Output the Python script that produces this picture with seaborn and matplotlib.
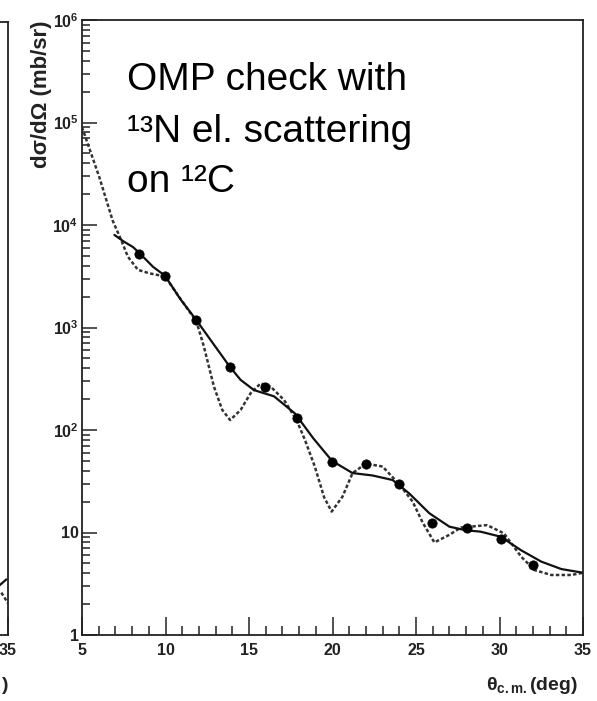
import matplotlib
matplotlib.use("Agg")
import matplotlib.pyplot as plt
import seaborn as sns
import numpy as np
import pandas as pd
from matplotlib.ticker import FixedLocator, FixedFormatter, MultipleLocator, NullFormatter

# ---------------- data ----------------
data_theta = [8.4, 9.97, 11.85, 13.87, 15.95, 17.87, 19.95, 22.0, 24.0, 25.93, 28.05, 30.07, 32.03]
data_xs = [5200, 3150, 1180, 415, 265, 130, 49, 46.5, 29.6, 12.3, 11.0, 8.7, 4.8]

solid_theta = [6.94, 7.5, 8.05, 8.4, 9.26, 9.97, 10.88, 11.85, 12.9, 13.87, 14.5, 15.3,
               16.5, 17.75, 18.85, 19.97, 21.2, 22.4, 23.6, 24.6, 25.8, 27.0, 28.0,
               28.85, 30.07, 31.3, 32.5, 33.7, 35.0]
solid_xs = [8000, 6900, 6100, 5400, 3900, 3200, 1900, 1180, 680, 410, 308, 245,
            213, 145, 83, 50, 38, 36, 32.5, 24, 15.4, 11.4, 10.5,
            10.2, 9.1, 6.7, 5.2, 4.4, 4.05]

dashed_theta = [5.0, 6.03, 6.84, 7.35, 7.75, 8.35, 9.06, 9.97, 11.06, 11.85, 12.3, 12.9,
                13.4, 13.87, 14.5, 15.1, 15.7, 16.3, 17.1, 17.85, 18.35, 18.94, 19.5,
                19.95, 20.6, 21.2, 22.0, 23.0, 24.0, 24.8, 25.4, 26.1, 27.0, 27.7,
                28.25, 29.26, 30.27, 31.3, 32.1, 33.1, 34.3, 35.0]
dashed_xs = [90000, 29500, 11000, 7100, 4900, 3650, 3370, 3150, 1740, 1150, 650, 265,
             157, 125, 157, 229, 285, 265, 196, 125, 80, 44, 22,
             16, 22.4, 38, 47, 44, 29.5, 20, 12.5, 8.0, 9.5, 11.2,
             11.4, 11.8, 9.8, 5.8, 4.3, 3.85, 3.85, 4.05]

# partially visible left panel (only its right edge is in the picture)
left_solid_theta = [34.5, 34.9]
left_solid_xs = [3.07, 3.5]
left_dashed_theta = [34.6, 35.0]
left_dashed_xs = [2.6, 2.05]

x_ticks = [5, 10, 15, 20, 25, 30, 35]
x_ticklabels = ["5", "10", "15", "20", "25", "30", "35"]
left_x_ticklabels = ["", "", "", "", "", "", "35"]
y_ticks = [1, 10, 100, 1e3, 1e4, 1e5, 1e6]
y_ticklabels = ["1", "10", r"$\mathbf{10^{2}}$", r"$\mathbf{10^{3}}$",
                r"$\mathbf{10^{4}}$", r"$\mathbf{10^{5}}$", r"$\mathbf{10^{6}}$"]

annot_lines = ["OMP check with", "\u00b9\u00b3N el. scattering", "on \u00b9\u00b2C"]
ylabel = "d\u03c3/d\u03a9 (mb/sr)"
xlabel = "\u03b8" + r"$_{\mathbf{c.m.}}$" + "(deg)"

# ---------------- style ----------------
sns.set_theme(style="white")
plt.rcParams["font.family"] = ["Liberation Sans", "DejaVu Sans"]
plt.rcParams["mathtext.fontset"] = "custom"
plt.rcParams["mathtext.rm"] = "Liberation Sans"
plt.rcParams["mathtext.bf"] = "Liberation Sans:bold"
plt.rcParams["mathtext.it"] = "Liberation Sans:italic"

W, H = 597, 701
fig = plt.figure(figsize=(W / 100, H / 100), dpi=100)
fig.patch.set_facecolor("white")


def fx(px):
    return px / W


def fy(py):
    return 1 - py / H


def style_axes(a, xlabels, show_y=True):
    a.set_yscale("log")
    a.set_xlim(5, 35)
    a.set_ylim(1, 1e6)
    for s in a.spines.values():
        s.set_color("#222222")
        s.set_linewidth(1.3)
        s.set_visible(True)
    a.xaxis.set_major_locator(FixedLocator(x_ticks))
    a.xaxis.set_major_formatter(FixedFormatter(xlabels))
    a.xaxis.set_minor_locator(MultipleLocator(1))
    a.yaxis.set_major_locator(FixedLocator(y_ticks))
    if show_y:
        a.yaxis.set_major_formatter(FixedFormatter(y_ticklabels))
    else:
        a.yaxis.set_major_formatter(NullFormatter())
    a.yaxis.set_minor_formatter(NullFormatter())
    a.tick_params(axis="x", which="major", direction="in", length=13, width=1.1,
                  color="#222222", bottom=True, top=False, pad=6)
    a.tick_params(axis="x", which="minor", direction="in", length=6.5, width=1.1,
                  color="#222222", bottom=True, top=False)
    a.tick_params(axis="y", which="major", direction="in", length=11, width=1.1,
                  color="#222222", left=True, right=False, pad=2.5)
    a.tick_params(axis="y", which="minor", direction="in", length=6, width=1.1,
                  color="#222222", left=True, right=False)
    for lab in a.get_xticklabels() + a.get_yticklabels():
        lab.set_fontweight("bold")
        lab.set_fontsize(11.5)
        lab.set_color("#222222")
    a.set_xlabel("")
    a.set_ylabel("")


# main panel
ax = fig.add_axes([fx(82), fy(635), fx(583) - fx(82), fy(20) - fy(635)])
df_d = pd.DataFrame({"theta": dashed_theta, "xs": dashed_xs})
df_s = pd.DataFrame({"theta": solid_theta, "xs": solid_xs})
df_p = pd.DataFrame({"theta": data_theta, "xs": data_xs})
sns.lineplot(data=df_d, x="theta", y="xs", ax=ax, sort=False, estimator=None,
             color="#333333", linewidth=1.8, linestyle=(0, (1.4, 0.9)))
sns.lineplot(data=df_s, x="theta", y="xs", ax=ax, sort=False, estimator=None,
             color="#111111", linewidth=1.6)
sns.scatterplot(data=df_p, x="theta", y="xs", ax=ax, color="black", s=45,
                edgecolor="black", linewidth=0.5, zorder=5)
style_axes(ax, x_ticklabels)

# left (cut-off) panel
axL = fig.add_axes([fx(8 - 501), fy(635), fx(501), fy(22) - fy(635)])
sns.lineplot(x=left_dashed_theta, y=left_dashed_xs, ax=axL, sort=False, estimator=None,
             color="#333333", linewidth=1.8, linestyle=(0, (1.4, 0.9)))
sns.lineplot(x=left_solid_theta, y=left_solid_xs, ax=axL, sort=False, estimator=None,
             color="#111111", linewidth=1.6)
style_axes(axL, left_x_ticklabels, show_y=False)

# axis titles
fig.text(fx(578), fy(690), xlabel, ha="right", va="baseline", fontsize=14,
         fontweight="bold", color="#222222")
fig.text(fx(8), fy(690), ")", ha="right", va="baseline", fontsize=14,
         fontweight="bold", color="#222222")
fig.text(fx(52), fy(20), ylabel, ha="right", va="bottom", rotation=90, fontsize=16,
         fontweight="bold", color="#222222", rotation_mode="anchor")

# annotation
baselines = [90, 142, 192]
for line, b in zip(annot_lines, baselines):
    fig.text(fx(127), fy(b), line, ha="left", va="baseline", fontsize=28, color="black")

fig.savefig("out.png", dpi=100)
